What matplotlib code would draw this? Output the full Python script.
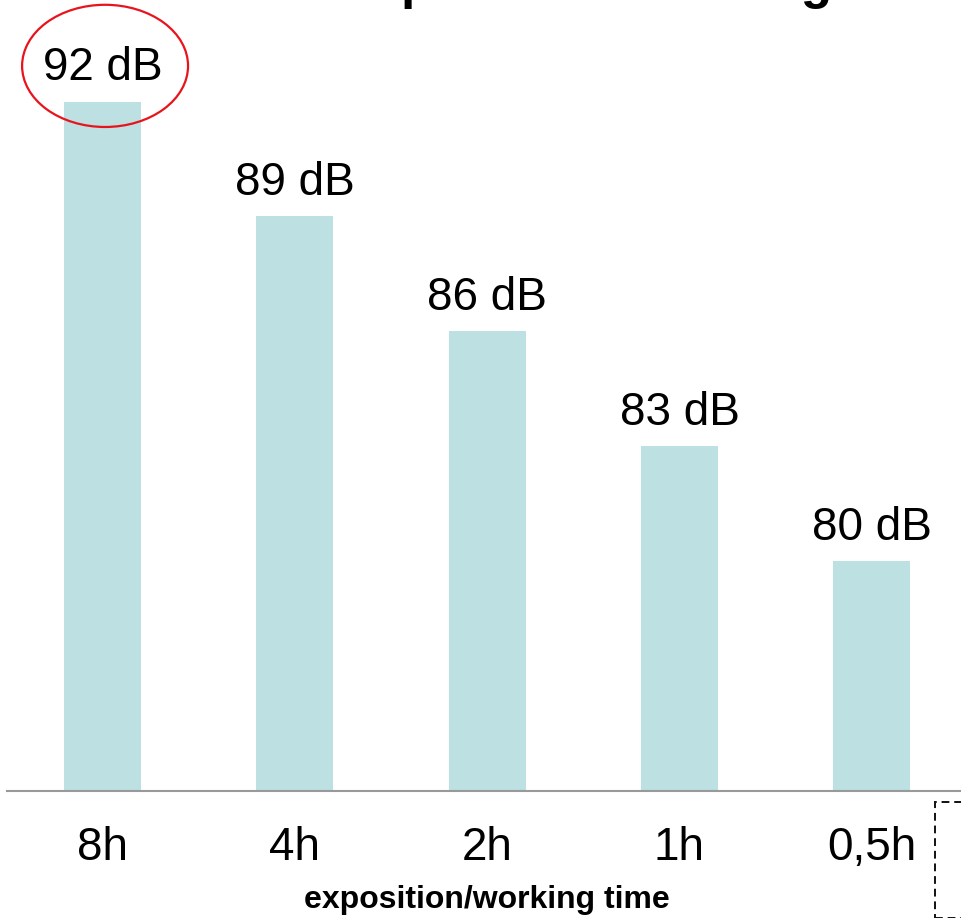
import matplotlib
matplotlib.use("Agg")
import matplotlib.pyplot as plt
from matplotlib.patches import Ellipse, Rectangle

durations = ["8h", "4h", "2h", "1h", "0,5h"]
levels_db = [92, 89, 86, 83, 80]
value_labels = [f"{v} dB" for v in levels_db]

plt.rcParams["font.family"] = ["Liberation Sans", "DejaVu Sans"]

W, H = 961, 918
fig = plt.figure(figsize=(W / 100, H / 100), dpi=100)
# axes spans from the left margin up to the right edge of the canvas
ax = fig.add_axes([7 / W, (H - 791) / H, (W - 7) / W, 791 / H])

x = list(range(len(durations)))
ax.bar(x, [v - 74 for v in levels_db], bottom=74, width=0.4, color="#bde0e3")
ax.set_xlim(-0.497, 4.464)
ax.set_ylim(74, 94.65)

for xi, v, lab in zip(x, levels_db, value_labels):
    ax.annotate(lab, (xi, v), xytext=(0, 8), textcoords="offset points",
                ha="center", va="bottom", fontsize=33)

for side in ("top", "right", "left"):
    ax.spines[side].set_visible(False)
ax.spines["bottom"].set_color("#999999")
ax.spines["bottom"].set_linewidth(1.5)
ax.set_yticks([])
ax.set_xticks(x)
ax.set_xticklabels(durations, fontsize=33)
ax.tick_params(axis="x", length=0, pad=25)
fig.text(487 / W, 1 - 900 / H, "exposition/working time",
         ha="center", va="center", fontsize=23, fontweight="bold")

# highlight the 8h level
ax.add_patch(Ellipse((x[0] + 0.013, 92.93), width=0.863, height=3.19,
                     fill=False, edgecolor="#e8141c", linewidth=1.6, clip_on=False))

fig.text(490 / W, 1.0 + 2 / H, "Time of exposure according",
         ha="center", va="baseline", fontsize=37, fontweight="bold")

# dashed frame at the lower right
fig.patches.append(Rectangle((935 / W, 0), 100 / W, (H - 802) / H,
                             transform=fig.transFigure, fill=False,
                             edgecolor="#111111", linewidth=1.4, linestyle=(0, (4, 2.5))))

fig.savefig("out.png", dpi=100)
